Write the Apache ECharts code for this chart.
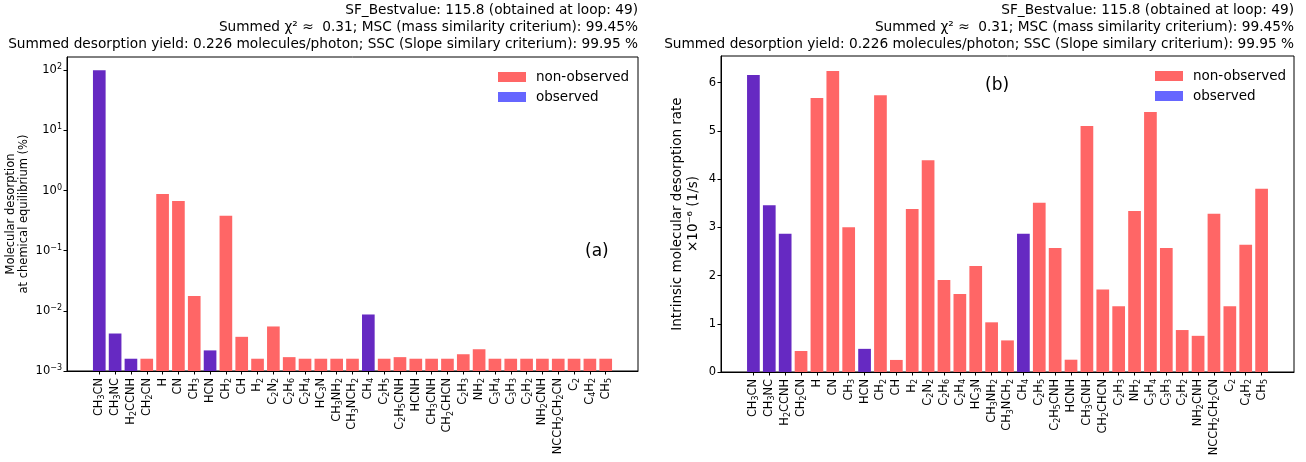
<!DOCTYPE html>
<html>
<head>
<meta charset="utf-8">
<script src="https://cdn.jsdelivr.net/npm/echarts@6/dist/echarts.min.js"></script>
<style>
html, body { margin: 0; padding: 0; background: #fff; }
#chart { width: 1306px; height: 462px; }
</style>
</head>
<body>
<div id="chart"></div>
<script>
// species, in plotting order
var species = ['CH3CN', 'CH3NC', 'H2CCNH', 'CH2CN', 'H', 'CN', 'CH3', 'HCN', 'CH2', 'CH', 'H2',
  'C2N2', 'C2H6', 'C2H4', 'HC3N', 'CH3NH2', 'CH3NCH2', 'CH4', 'C2H5', 'C2H5CNH', 'HCNH',
  'CH3CNH', 'CH2CHCN', 'C2H3', 'NH2', 'C3H4', 'C3H3', 'C2H2', 'NH2CNH', 'NCCH2CH2CN', 'C2', 'C4H2', 'CH5'];
// 1 = observed, 0 = non-observed
var observed = [1, 1, 1, 0, 0, 0, 0, 1, 0, 0, 0,
  0, 0, 0, 0, 0, 0, 1, 0, 0, 0,
  0, 0, 0, 0, 0, 0, 0, 0, 0, 0, 0, 0];
// (a) molecular desorption at chemical equilibrium (%)
var equilibrium = [100, 0.0042, 0.0016, 0.0016, 0.88, 0.67, 0.0176, 0.0022, 0.38, 0.0037, 0.0016,
  0.0055, 0.0017, 0.0016, 0.0016, 0.0016, 0.0016, 0.0087, 0.0016, 0.0017, 0.0016,
  0.0016, 0.0016, 0.0019, 0.0023, 0.0016, 0.0016, 0.0016, 0.0016, 0.0016, 0.0016, 0.0016, 0.0016];
// (b) intrinsic molecular desorption rate x1e-6 (1/s)
var rates = [6.16, 3.46, 2.865, 0.435, 5.68, 6.24, 3.0, 0.48, 5.74, 0.25, 3.38,
  4.39, 1.91, 1.615, 2.2, 1.03, 0.655, 2.865, 3.51, 2.57, 0.255,
  5.10, 1.71, 1.365, 3.34, 5.39, 2.57, 0.87, 0.75, 3.28, 1.365, 2.64, 3.80];

var logTicks = [0.001, 0.01, 0.1, 1, 10, 100];
var rateTicks = [0, 1, 2, 3, 4, 5, 6];

var titleLines = [
  'SF_Bestvalue: 115.8 (obtained at loop: 49)',
  'Summed χ² ≈  0.31; MSC (mass similarity criterium): 99.45%',
  'Summed desorption yield: 0.226 molecules/photon; SSC (Slope similary criterium): 99.95 %'
];

var FONT = '"DejaVu Sans", sans-serif';
var idx = species.map(function (s, i) { return i; });

// minor ticks of the log axis (2..9 per decade)
var minorTicks = [];
for (var e = -3; e <= 2; e++) {
  for (var k = 2; k <= 9; k++) {
    var v = +(k * Math.pow(10, e)).toPrecision(3);
    if (v < 166) minorTicks.push(v);
  }
}

function pick(values, flag) {
  var out = [];
  values.forEach(function (v, i) {
    if (observed[i] === flag) out.push([i, v]);
  });
  return out;
}

// chemical formula -> rich text with subscript digits
function formula(name) {
  return name.replace(/(\D+)|(\d+)/g, function (m, a, b) {
    return a ? '{n|' + a + '}' : '{s|' + b + '}';
  });
}

function supExp(v) {
  var p = Math.log10(v);
  var r = Math.round(p);
  if (Math.abs(p - r) > 1e-6) return '';
  return '{b|10}{s|' + (r < 0 ? '−' + (-r) : r) + '}';
}

function xAxisFor(grid) {
  return {
    type: 'value', gridIndex: grid, min: -2.04, max: 34.04,
    axisLine: { onZero: false, lineStyle: { color: '#000', width: 1 } },
    axisTick: { customValues: idx, length: 3.5, lineStyle: { color: '#000' } },
    axisLabel: {
      customValues: idx, rotate: 90, margin: 7, color: '#000',
      formatter: function (v) { return formula(species[Math.round(v)]); },
      rich: {
        n: { fontFamily: FONT, fontSize: 11.4, lineHeight: 14, color: '#000' },
        s: { fontFamily: FONT, fontSize: 8, lineHeight: 6, verticalAlign: 'bottom', color: '#000' }
      }
    },
    splitLine: { show: false }
  };
}

function bars(name, grid, yIdx, data, color) {
  return {
    type: 'bar', name: name, xAxisIndex: grid, yAxisIndex: yIdx, data: data,
    barWidth: '80%', barGap: '-100%', itemStyle: { color: color }
  };
}

function legendFor(left, top) {
  return {
    orient: 'vertical', left: left, top: top, padding: 0, itemWidth: 28, itemHeight: 10, itemGap: 6,
    selectedMode: false, icon: 'rect',
    textStyle: { fontFamily: FONT, fontSize: 13.5, lineHeight: 14, color: '#000', padding: [0, 0, 0, 5] },
    data: [{ name: 'non-observed' }, { name: 'observed', itemStyle: { color: '#6666ff' } }]
  };
}

function titleFor(x) {
  return {
    text: titleLines.join('\n'), left: x, top: 2, padding: 0, textAlign: 'right',
    textStyle: { fontFamily: FONT, fontSize: 13.7, fontWeight: 'normal', lineHeight: 17, color: '#000' }
  };
}

var chart = echarts.init(document.getElementById('chart'));
chart.setOption({
  animation: false,
  textStyle: { fontFamily: FONT },
  title: [titleFor(638), titleFor(1294)],
  legend: [legendFor(498, 70), legendFor(1155, 69)],
  grid: [
    { left: 67, right: 668, top: 57, bottom: 91, show: true, borderColor: '#000', borderWidth: 1, backgroundColor: 'transparent' },
    { left: 721, right: 12, top: 56, bottom: 90, show: true, borderColor: '#000', borderWidth: 1, backgroundColor: 'transparent' }
  ],
  xAxis: [xAxisFor(0), xAxisFor(1)],
  yAxis: [
    {
      type: 'log', logBase: 10, gridIndex: 0, min: 0.001, max: 166, startValue: 0.001,
      name: 'Molecular desorption\nat chemical equilibrium (%)', nameLocation: 'middle', nameGap: 36,
      nameTextStyle: { fontFamily: FONT, fontSize: 11.5, lineHeight: 13, color: '#000' },
      axisLine: { onZero: false, lineStyle: { color: '#000' } },
      axisTick: { customValues: logTicks, length: 3.5, lineStyle: { color: '#000' } },
      axisLabel: {
        customValues: logTicks, margin: 5, color: '#000', formatter: supExp,
        rich: {
          b: { fontFamily: FONT, fontSize: 11.5, lineHeight: 14, color: '#000' },
          s: { fontFamily: FONT, fontSize: 8, lineHeight: 6, verticalAlign: 'top', color: '#000' }
        }
      },
      splitLine: { show: false }
    },
    {
      type: 'log', logBase: 10, gridIndex: 0, min: 0.001, max: 166,
      axisLine: { show: false },
      axisTick: { customValues: minorTicks, length: 2, lineStyle: { color: '#000' } },
      axisLabel: { show: false },
      splitLine: { show: false }
    },
    {
      type: 'value', gridIndex: 1, min: 0, max: 6.552,
      name: 'Intrinsic molecular desorption rate\n×10⁻⁶ (1/s)', nameLocation: 'middle', nameGap: 20,
      nameTextStyle: { fontFamily: FONT, fontSize: 13.5, lineHeight: 16, color: '#000' },
      axisLine: { onZero: false, lineStyle: { color: '#000' } },
      axisTick: { customValues: rateTicks, length: 3.5, lineStyle: { color: '#000' } },
      axisLabel: { customValues: rateTicks, margin: 5, color: '#000', fontFamily: FONT, fontSize: 11.5 },
      splitLine: { show: false }
    }
  ],
  graphic: [
    { type: 'text', left: 585, top: 243, style: { text: '(a)', font: '17px "DejaVu Sans"', fill: '#000' } },
    { type: 'text', left: 985, top: 77, style: { text: '(b)', font: '17px "DejaVu Sans"', fill: '#000' } }
  ],
  series: [
    bars('non-observed', 0, 0, pick(equilibrium, 0), '#ff6666'),
    bars('observed', 0, 0, pick(equilibrium, 1), '#6629c2'),
    bars('non-observed', 1, 2, pick(rates, 0), '#ff6666'),
    bars('observed', 1, 2, pick(rates, 1), '#6629c2')
  ]
});
</script>
</body>
</html>
